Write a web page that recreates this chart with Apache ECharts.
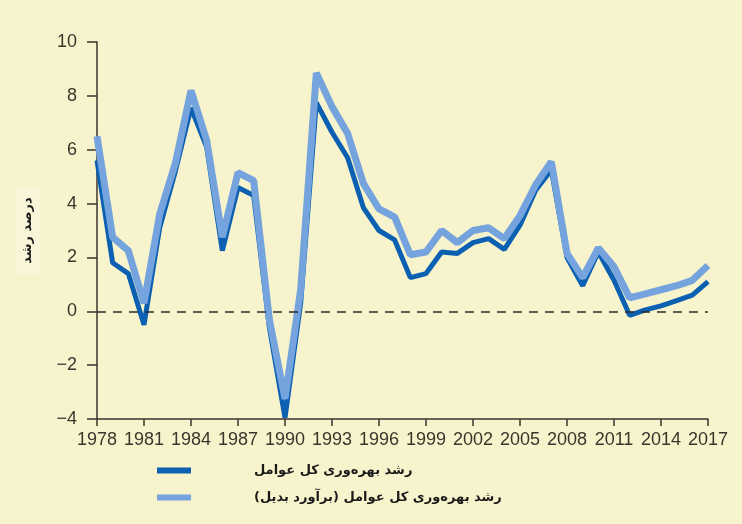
<!DOCTYPE html>
<html>
<head>
<meta charset="utf-8">
<script src="https://cdn.jsdelivr.net/npm/echarts@6/dist/echarts.min.js"></script>
<style>
  html, body { margin: 0; padding: 0; background: #f7f3cc; }
  #chart { width: 742px; height: 524px; }
</style>
</head>
<body>
<div id="chart"></div>
<script>
// سال‌ها و داده‌ها (درصد رشد)
const years = [];
for (let y = 1978; y <= 2017; y++) years.push(y);

const tfpGrowth = [5.6, 1.8, 1.4, -0.5, 3.1, 5.2, 7.55, 6.1, 2.25, 4.6, 4.3, -0.6, -3.95, 0.3, 7.75, 6.65, 5.7, 3.85, 3.0, 2.65,
  1.25, 1.4, 2.2, 2.15, 2.55, 2.7, 2.3, 3.2, 4.5, 5.25, 2.0, 0.95, 2.2, 1.15, -0.15, 0.05, 0.2, 0.4, 0.6, 1.1];
const tfpGrowthAlt = [6.5, 2.75, 2.25, 0.3, 3.6, 5.5, 8.2, 6.35, 2.75, 5.15, 4.85, -0.3, -3.25, 0.8, 8.85, 7.6, 6.6, 4.75, 3.8, 3.5,
  2.1, 2.2, 3.0, 2.55, 3.0, 3.1, 2.7, 3.55, 4.7, 5.55, 2.15, 1.25, 2.35, 1.65, 0.5, 0.65, 0.8, 0.95, 1.15, 1.7];

const RLM = '\u200F';
const nameMain = RLM + 'رشد بهره\u200Cوری کل عوامل' + RLM;
const nameAlt = RLM + 'رشد بهره\u200Cوری کل عوامل (برآورد بدیل)' + RLM;
const yAxisName = RLM + 'درصد رشد' + RLM;

const darkBlue = '#0b60b2';
const lightBlue = '#74a3de';
const axisColor = '#3a352c';

const chart = echarts.init(document.getElementById('chart'));

function pairs(values) {
  return values.map((v, i) => [years[i], v]);
}

const option = {
  backgroundColor: '#f7f3cc',
  animation: false,
  grid: { left: 97, right: 34, top: 42, bottom: 105 },
  legend: {
    orient: 'vertical',
    left: 152,
    top: 459,
    itemWidth: 34,
    itemHeight: 6,
    itemGap: 14,
    icon: 'rect',
    data: [nameMain, nameAlt],
    textStyle: {
      fontFamily: 'DejaVu Sans',
      fontWeight: 'bold',
      fontSize: 13,
      color: '#1a1a1a',
      padding: [0, 0, 0, 58]
    }
  },
  xAxis: {
    type: 'value',
    min: 1978,
    max: 2017,
    interval: 3,
    axisLine: { onZero: false, lineStyle: { color: axisColor, width: 1.5 } },
    axisTick: { length: 7, lineStyle: { color: axisColor, width: 1.5 } },
    axisLabel: {
      margin: 12,
      fontFamily: 'Liberation Sans Narrow, Liberation Sans',
      fontSize: 18,
      color: '#3a352c',
      formatter: v => String(v)
    },
    splitLine: { show: false }
  },
  yAxis: {
    type: 'value',
    min: -4,
    max: 10,
    interval: 2,
    name: yAxisName,
    nameLocation: 'middle',
    nameRotate: 90,
    nameGap: 57,
    nameTextStyle: {
      fontFamily: 'DejaVu Sans',
      fontWeight: 'bold',
      fontSize: 13,
      color: '#1a1a1a',
      backgroundColor: '#f8f5d8',
      padding: [6, 10, 6, 10]
    },
    axisLine: { show: true, lineStyle: { color: axisColor, width: 1.5 } },
    axisTick: { show: true, length: 10, lineStyle: { color: axisColor, width: 1.5 } },
    axisLabel: {
      margin: 20,
      fontFamily: 'Liberation Sans',
      fontSize: 18,
      color: '#3a352c',
      formatter: v => String(v).replace('-', '\u2212')
    },
    splitLine: { show: false }
  },
  series: [
    {
      name: nameMain,
      type: 'line',
      data: pairs(tfpGrowth),
      symbol: 'none',
      lineStyle: { color: darkBlue, width: 5 },
      itemStyle: { color: darkBlue },
      markLine: {
        silent: true,
        symbol: 'none',
        label: { show: false },
        lineStyle: { color: '#2b2b2b', width: 1.6, type: [9, 7] },
        data: [{ yAxis: 0 }]
      }
    },
    {
      name: nameAlt,
      type: 'line',
      data: pairs(tfpGrowthAlt),
      symbol: 'none',
      lineStyle: { color: lightBlue, width: 7 },
      itemStyle: { color: lightBlue }
    }
  ]
};

chart.setOption(option);
</script>
</body>
</html>
